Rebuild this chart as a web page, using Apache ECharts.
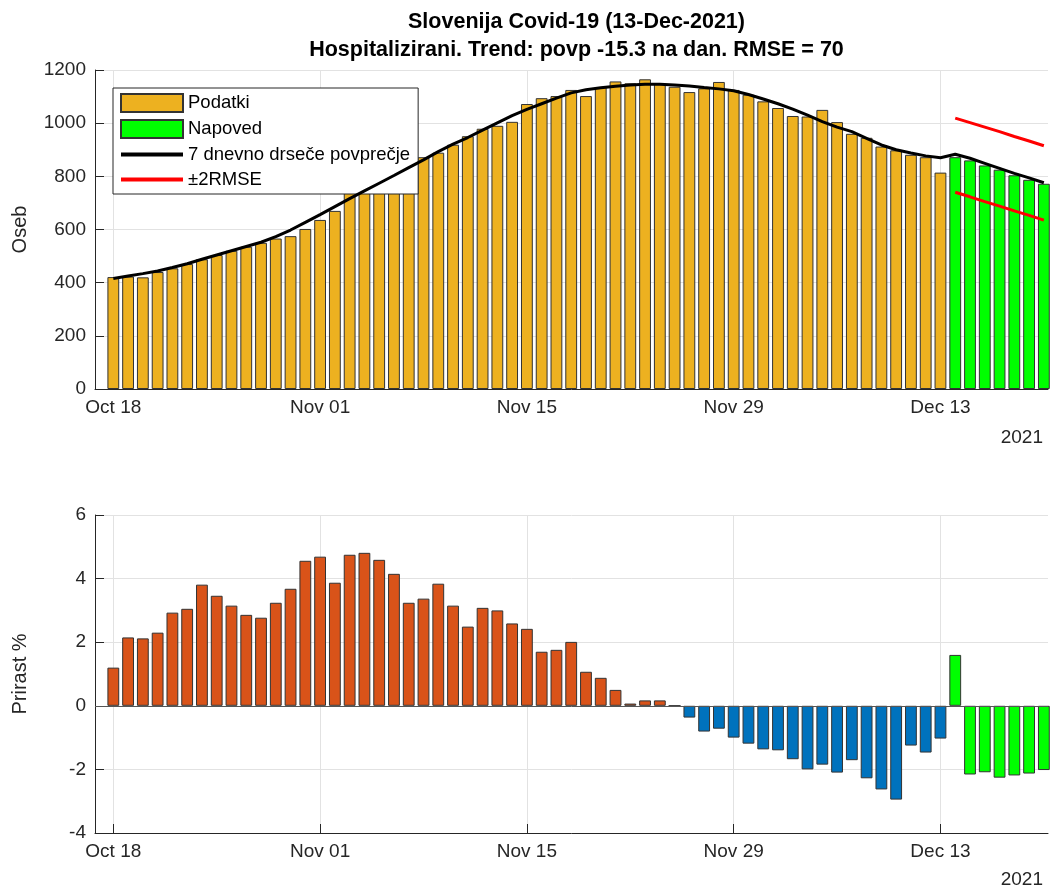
<!DOCTYPE html>
<html><head><meta charset="utf-8">
<script src="https://cdn.jsdelivr.net/npm/echarts@6/dist/echarts.min.js"></script>
<style>html,body{margin:0;padding:0;background:#fff}#c{width:1050px;height:892px}</style>
</head><body><div id="c"></div>
<script>
const titleLines = ['Slovenija Covid-19 (13-Dec-2021)', 'Hospitalizirani. Trend: povp -15.3 na dan. RMSE = 70'];
const tickDays = [0, 14, 28, 42, 56];
const tickLabels = ['Oct 18', 'Nov 01', 'Nov 15', 'Nov 29', 'Dec 13'];
const yearLabel = '2021';
const legendNames = ['Podatki', 'Napoved', '7 dnevno drseče povprečje', '±2RMSE'];

// hospitalized, Oct 18 .. Dec 13 (day index 0..56)
const hospitalized = [421, 423, 420, 440, 454, 470, 488, 504, 520, 535,
  550, 566, 575, 602, 636, 670, 745, 765, 780, 790,
  800, 872, 889, 919, 951, 979, 990, 1005, 1072, 1094,
  1102, 1125, 1102, 1135, 1157, 1150, 1165, 1147, 1137, 1117,
  1131, 1155, 1125, 1107, 1082, 1057, 1027, 1025, 1050, 1004,
  960, 945, 912, 898, 881, 872, 814];
// forecast, Dec 14 .. Dec 20 (day index 57..63)
const forecastStart = 57;
const forecast = [872, 860, 841, 825, 804, 787, 772];
// 7-day moving average, day index 0..63
const movingAvg = [416, 425, 434, 444, 457, 471, 488, 504, 520, 536,
  552, 573, 598, 627, 656, 686, 716, 745, 774, 803,
  833, 862, 893, 921, 946, 974, 1001, 1028, 1052, 1073,
  1094, 1114, 1126, 1133, 1139, 1144, 1146, 1146, 1144, 1140,
  1134, 1129, 1122, 1108, 1091, 1073, 1053, 1030, 1006, 985,
  968, 943, 918, 900, 888, 877, 870, 883, 868, 849,
  830, 811, 794, 776];
const upperBand = [1019, 1002, 985, 968, 950, 933, 915];
const lowerBand = [740, 723, 705, 688, 670, 653, 635];
// growth %, day index 0..56
const growth = [1.20, 2.15, 2.12, 2.30, 2.93, 3.05, 3.81, 3.46, 3.15, 2.86,
  2.77, 3.24, 3.68, 4.56, 4.69, 3.87, 4.75, 4.81, 4.59, 4.15,
  3.24, 3.37, 3.84, 3.15, 2.49, 3.08, 3.00, 2.59, 2.42, 1.70,
  1.76, 2.01, 1.07, 0.88, 0.50, 0.07, 0.17, 0.17, 0, -0.37,
  -0.81, -0.72, -1.00, -1.19, -1.37, -1.40, -1.68, -2.00, -1.85, -2.10,
  -1.71, -2.28, -2.63, -2.95, -1.25, -1.47, -1.03];
const growthForecast = [1.60, -2.16, -2.09, -2.26, -2.19, -2.13, -2.02];

const FONT = "'Liberation Sans', Arial, Helvetica, sans-serif";
const AX = '#262626';
const GRIDC = '#e2e2e2';
const C_DATA = '#EDB120', C_FC = '#00FF00', C_UP = '#D95319', C_DOWN = '#0072BD';

function makeX(gridIndex) {
  return {
    type: 'value', gridIndex, min: -1.24, max: 63.28,
    axisLine: { show: true, onZero: false, lineStyle: { color: AX, width: 1 } },
    axisTick: { show: true, inside: true, length: 9, customValues: tickDays, lineStyle: { color: AX } },
    axisLabel: { customValues: tickDays, formatter: v => { const k = tickDays.indexOf(v); return k >= 0 ? tickLabels[k] : ''; },
      color: AX, fontSize: 19, fontFamily: FONT, margin: 9 },
    splitLine: { show: true, lineStyle: { color: GRIDC, width: 1 } }
  };
}
function makeY(gridIndex, min, max, interval, name) {
  return {
    type: 'value', gridIndex, min, max, interval, name, nameLocation: 'middle', nameGap: 65,
    nameTextStyle: { fontSize: 20, color: AX, fontFamily: FONT },
    axisLine: { show: true, onZero: false, lineStyle: { color: AX, width: 1 } },
    axisTick: { show: true, inside: true, length: 9, lineStyle: { color: AX } },
    axisLabel: { color: AX, fontSize: 19, fontFamily: FONT, margin: 9, formatter: v => String(v) },
    splitLine: { show: true, lineStyle: { color: GRIDC, width: 1 } }
  };
}
const barStyle = c => ({ color: c, borderColor: '#333', borderWidth: 1 });

const option = {
  animation: false,
  backgroundColor: '#fff',
  textStyle: { fontFamily: FONT },
  title: [{
    text: titleLines[0] + '\n' + titleLines[1], left: 571.5, top: 3, textAlign: 'center',
    textStyle: { fontSize: 21.5, fontWeight: 'bold', color: '#000', lineHeight: 28, fontFamily: FONT }
  }],
  graphic: [
    { type: 'text', right: 7, top: 428, style: { text: yearLabel, fontSize: 19, fill: AX, fontFamily: FONT } },
    { type: 'text', right: 7, top: 870, style: { text: yearLabel, fontSize: 19, fill: AX, fontFamily: FONT } }
  ],
  legend: {
    data: [{ name: legendNames[0], icon: 'rect' }, { name: legendNames[1], icon: 'rect' },
      { name: legendNames[2], itemStyle: { opacity: 0 }, lineStyle: { width: 4 } },
      { name: legendNames[3], itemStyle: { opacity: 0 }, lineStyle: { width: 4 } }],
    orient: 'vertical', left: 113, top: 88, itemWidth: 62, itemHeight: 18, itemGap: 6,
    padding: [5, 8, 5, 6], backgroundColor: '#fff', borderColor: AX, borderWidth: 1, borderRadius: 0,
    textStyle: { fontSize: 18.5, color: '#000', fontFamily: FONT }, selectedMode: false
  },
  grid: [
    { left: 95, right: 2, top: 70, height: 319 },
    { left: 95, right: 2, top: 515, height: 318 }
  ],
  xAxis: [makeX(0), makeX(1)],
  yAxis: [makeY(0, 0, 1200, 200, 'Oseb'), makeY(1, -4, 6, 2, 'Prirast %')],
  series: [
    { name: legendNames[0], type: 'bar', xAxisIndex: 0, yAxisIndex: 0, barWidth: '80%', barGap: '-100%',
      itemStyle: barStyle(C_DATA), data: hospitalized.map((v, i) => [i, v]) },
    { name: legendNames[1], type: 'bar', xAxisIndex: 0, yAxisIndex: 0, barWidth: '80%', barGap: '-100%',
      itemStyle: barStyle(C_FC), data: forecast.map((v, i) => [forecastStart + i, v]) },
    { name: legendNames[2], type: 'line', xAxisIndex: 0, yAxisIndex: 0, symbol: 'none', z: 5,
      lineStyle: { color: '#000', width: 3 }, itemStyle: { color: '#000' }, data: movingAvg.map((v, i) => [i, v]) },
    { name: legendNames[3], type: 'line', xAxisIndex: 0, yAxisIndex: 0, symbol: 'none', z: 5,
      lineStyle: { color: '#ff0000', width: 3 }, itemStyle: { color: '#ff0000' }, data: upperBand.map((v, i) => [forecastStart + i, v]) },
    { name: legendNames[3], type: 'line', xAxisIndex: 0, yAxisIndex: 0, symbol: 'none', z: 5,
      lineStyle: { color: '#ff0000', width: 3 }, itemStyle: { color: '#ff0000' }, data: lowerBand.map((v, i) => [forecastStart + i, v]) },
    { name: 'Prirast', type: 'bar', xAxisIndex: 1, yAxisIndex: 1, barWidth: '80%', barGap: '-100%',
      itemStyle: { borderColor: '#333', borderWidth: 1 },
      data: growth.map((v, i) => ({ value: [i, v], itemStyle: { color: v >= 0 ? C_UP : C_DOWN } })),
      markLine: { silent: true, symbol: ['none', 'none'], label: { show: false },
        lineStyle: { color: '#555', type: 'solid', width: 1 }, data: [{ yAxis: 0 }] } },
    { name: 'Prirast napoved', type: 'bar', xAxisIndex: 1, yAxisIndex: 1, barWidth: '80%', barGap: '-100%',
      itemStyle: barStyle(C_FC), data: growthForecast.map((v, i) => [forecastStart + i, v]) }
  ]
};
const chart = echarts.init(document.getElementById('c'), null, { renderer: 'canvas' });
chart.setOption(option);
</script></body></html>
